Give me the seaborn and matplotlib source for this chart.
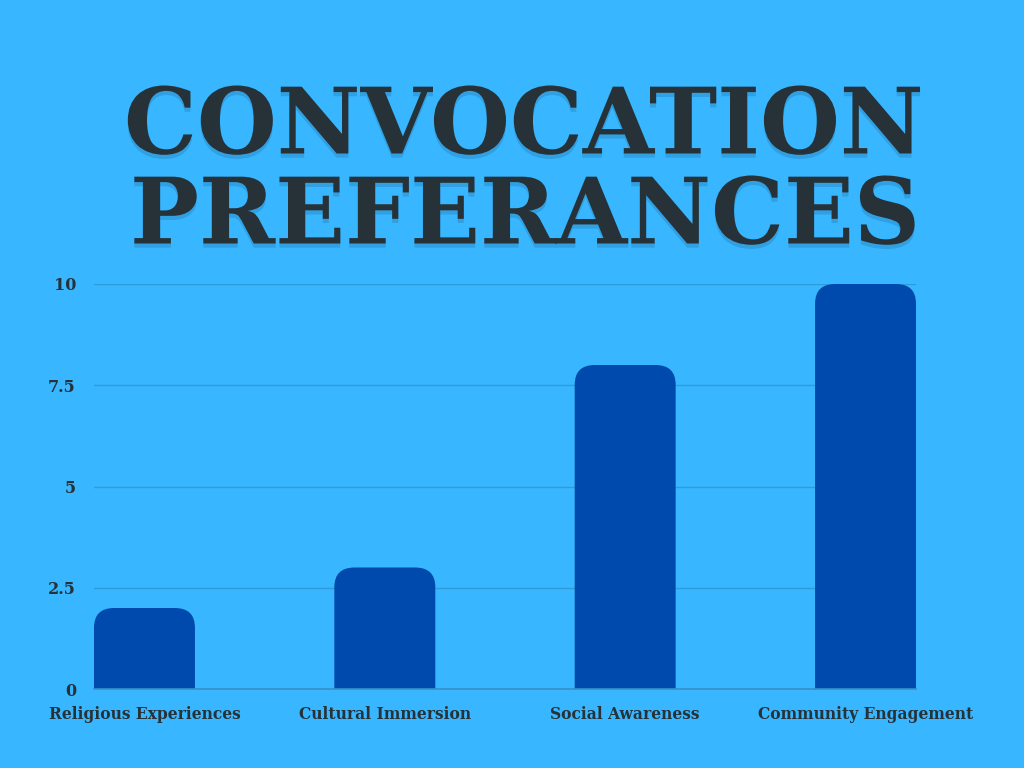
import matplotlib
matplotlib.use("Agg")
import matplotlib.pyplot as plt
import matplotlib.patheffects as pe
from matplotlib.patches import FancyBboxPatch
import seaborn as sns
import pandas as pd

categories = ["Religious Experiences", "Cultural Immersion", "Social Awareness", "Community Engagement"]
values = [2, 3, 8, 10]
y_ticks = [0, 2.5, 5, 7.5, 10]
y_tick_labels = ["0", "2.5", "5", "7.5", "10"]
title_lines = ["CONVOCATION", "PREFERANCES"]

BG = "#38B6FF"
BAR = "#004AAD"
TXT = "#263238"
GRID = "#2E9BDB"

sns.set_theme(style="white")
plt.rcParams["font.family"] = ["DejaVu Serif", "DejaVu Sans"]

df = pd.DataFrame({"category": categories, "value": values})

fig = plt.figure(figsize=(10.24, 7.68), dpi=100, facecolor=BG)
ax = fig.add_axes([94/1024, 79/768, 822/1024, 405/768])
ax.set_facecolor(BG)

sns.barplot(data=df, x="category", y="value", ax=ax, color=BAR, width=0.42,
            saturation=1, zorder=3)

ax.set_xlim(-0.21, 3.21)
ax.set_ylim(0, 10)

# rounded-top bars
rx = 0.084
aspect = 5.8
for p in list(ax.patches):
    x0, w, h = p.get_x(), p.get_width(), p.get_height()
    fb = FancyBboxPatch((x0, -1.0), w, h + 1.0,
                        boxstyle=f"round,pad=0,rounding_size={rx}",
                        mutation_aspect=aspect, facecolor=BAR, edgecolor="none",
                        zorder=3, clip_on=True)
    ax.add_patch(fb)
    p.set_visible(False)

ax.set_yticks(y_ticks)
ax.set_yticklabels(y_tick_labels)
ax.grid(axis="y", color=GRID, linewidth=1.0, zorder=0)
ax.grid(axis="x", visible=False)
for s in ["top", "right", "left"]:
    ax.spines[s].set_visible(False)
ax.spines["bottom"].set_color("#3590C8")
ax.spines["bottom"].set_linewidth(1.2)
ax.spines["bottom"].set_zorder(4)

ax.set_xlabel("")
ax.set_ylabel("")
ax.tick_params(axis="y", length=0, pad=13, labelsize=11.5, labelcolor=TXT)
ax.tick_params(axis="x", length=0, pad=12, labelsize=11.2, labelcolor=TXT)
for lab in ax.get_xticklabels() + ax.get_yticklabels():
    lab.set_fontweight("bold")

shadow = [pe.withSimplePatchShadow(offset=(0, -3), shadow_rgbFace="#1a5f8f", alpha=0.25)]
fig.text(0.5115, 1 - 128/768, title_lines[0], ha="center", va="center",
         fontsize=66, fontweight="bold", color=TXT, family="DejaVu Serif",
         path_effects=shadow)
fig.text(0.5125, 1 - 218/768, title_lines[1], ha="center", va="center",
         fontsize=66, fontweight="bold", color=TXT, family="DejaVu Serif",
         path_effects=shadow)

fig.savefig("out.png", dpi=100, facecolor=BG)
